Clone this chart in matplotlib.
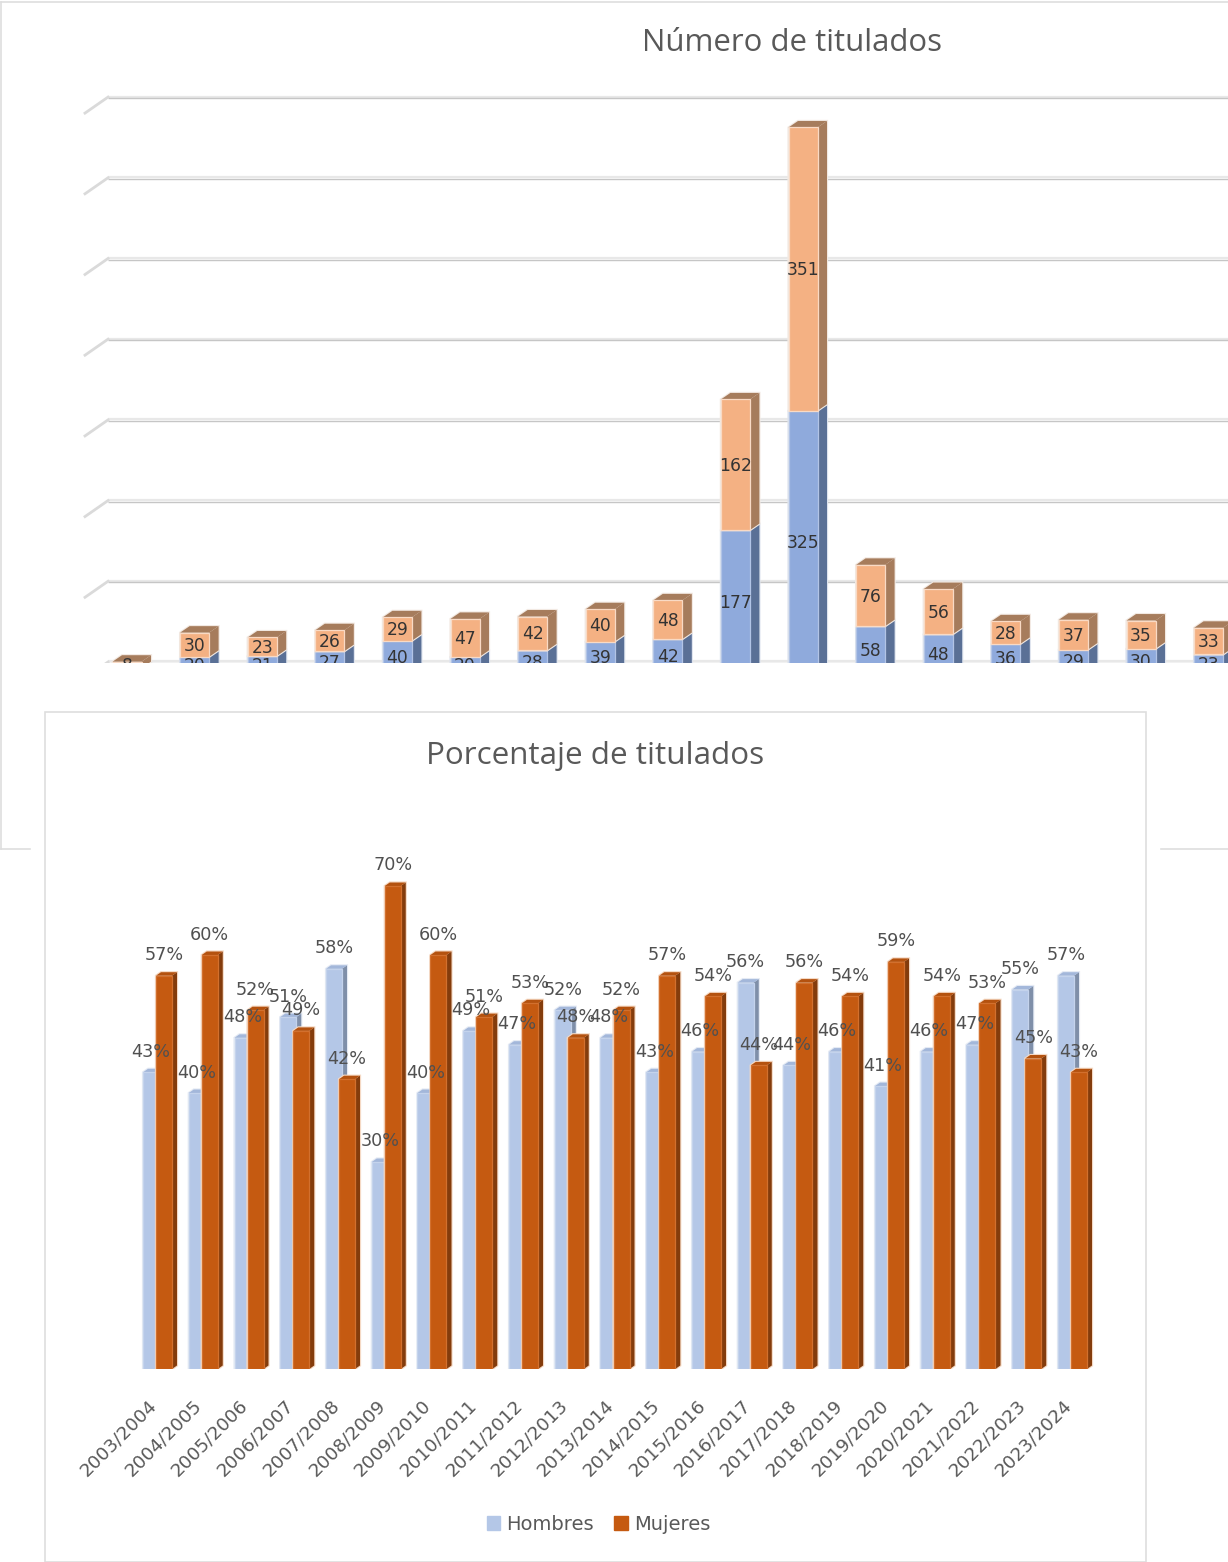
import matplotlib
matplotlib.use("Agg")
import matplotlib.pyplot as plt
from matplotlib.lines import Line2D
from matplotlib.patches import Patch, Polygon, Rectangle

cursos = ["2003/2004", "2004/2005", "2005/2006", "2006/2007", "2007/2008", "2008/2009", "2009/2010",
          "2010/2011", "2011/2012", "2012/2013", "2013/2014", "2014/2015", "2015/2016", "2016/2017",
          "2017/2018", "2018/2019", "2019/2020", "2020/2021", "2021/2022", "2022/2023", "2023/2024"]
num_hombres = [6, 20, 21, 27, 40, 20, 28, 39, 42, 177, 325, 58, 48, 36, 29, 30, 23]
num_mujeres = [8, 30, 23, 26, 29, 47, 42, 40, 48, 162, 351, 76, 56, 28, 37, 35, 33]
pct_hombres = [43, 40, 48, 51, 58, 30, 40, 49, 47, 52, 48, 43, 46, 56, 44, 46, 41, 46, 47, 55, 57]
pct_mujeres = [57, 60, 52, 49, 42, 70, 60, 51, 53, 48, 52, 57, 54, 44, 56, 54, 59, 54, 53, 45, 43]
grid_vals = [0, 100, 200, 300, 400, 500, 600, 700]

W, H = 1228, 1562
plt.rcParams["font.family"] = "DejaVu Sans"

fig = plt.figure(figsize=(W / 100, H / 100), dpi=100)


def axes_px(x0, y0, x1, y1):
    return fig.add_axes([x0 / W, 1 - y1 / H, (x1 - x0) / W, (y1 - y0) / H])


def hline(x0, x1, y, c="#DEDEDE", lw=1.2):
    fig.add_artist(Line2D([x0 / W, x1 / W], [1 - y / H, 1 - y / H], color=c, lw=lw))


def vline(x, y0, y1, c="#DEDEDE", lw=1.2):
    fig.add_artist(Line2D([x / W, x / W], [1 - y0 / H, 1 - y1 / H], color=c, lw=lw))


def box(ax, x, y0, h, w, dx, dy, front, side, top, edge, halo, z):
    # a bar with its right side and top face, depth in data units
    y1 = y0 + h
    r = x + w / 2
    l = x - w / 2
    ax.add_patch(Polygon([(l, y0), (r, y0), (r + dx, y0 + dy), (r + dx, y1 + dy), (l + dx, y1 + dy), (l, y1)],
                         fc=halo, ec=halo, lw=1.6, zorder=z))
    ax.add_patch(Polygon([(r, y0), (r + dx, y0 + dy), (r + dx, y1 + dy), (r, y1)], fc=side, ec="none", zorder=z))
    ax.add_patch(Polygon([(l, y1), (l + dx, y1 + dy), (r + dx, y1 + dy), (r, y1)], fc=top, ec="none", zorder=z))
    ax.bar(x, h, w, bottom=y0, color=front, edgecolor=edge, linewidth=0.9, zorder=z)


# outer frame of the first chart
vline(1, 2, 849)
hline(1, W, 2)
hline(1, 30, 849)
hline(1161, W, 849)
fig.text(791.5 / W, 1 - 43 / H, "Número de titulados", ha="center", va="center", fontsize=22.4,
         color="#595959", family="Open Sans")

# first chart, cut off by the second one
sx = 67.6
sy = 0.807
ax1 = axes_px(0, 3, W, 663)
ax1.set_xlim(-127 / sx, (W - 127) / sx)
ax1.set_ylim((673 - 663) / sy, (673 - 3) / sy)
ax1.axis("off")

back = 11 / sy
for v in grid_vals:
    ax1.plot([(108 - 127) / sx, (W - 127) / sx], [v + back + 0.6 / sy] * 2, color="#E8E8E8", lw=1.6, zorder=1, solid_capstyle="butt")
    ax1.plot([(108 - 127) / sx, (W - 127) / sx], [v + back - 1 / sy] * 2, color="#C6C6C6", lw=1.0, zorder=1, solid_capstyle="butt")
    ax1.plot([(85 - 127) / sx, (108 - 127) / sx], [v + back - 16 / sy, v + back], color="#DADADA", lw=2.0, zorder=1)

dx1 = 9.5 / sx
dy1 = 6.5 / sy
w1 = 29 / sx
for i in range(len(num_hombres)):
    z = 3 + i
    box(ax1, i, 0, num_hombres[i], w1, dx1, dy1, "#8FAADC", "#5A7096", "#5A7096", "#B2C4E6", "#DDE3EE", z)
    box(ax1, i, num_hombres[i], num_mujeres[i], w1, dx1, dy1, "#F4B183", "#A67C5C", "#A67C5C", "#F9DAC5", "#F2E9E2", z + 0.1)
    ax1.text(i, num_hombres[i] / 2 - 1 / sy, str(num_hombres[i]), ha="center", va="center", fontsize=12.3, color="#333333", zorder=40, clip_on=True)
    ax1.text(i, num_hombres[i] + num_mujeres[i] / 2 - 1 / sy, str(num_mujeres[i]), ha="center", va="center", fontsize=12.3, color="#333333", zorder=40, clip_on=True)

# second chart on its own white panel
fig.add_artist(Rectangle((45 / W, 0), (1146 - 45) / W, 1 - 712 / H, transform=fig.transFigure, fc="white", ec="#DEDEDE", lw=1.2, zorder=2))

sx2 = 45.75
sy2 = 6.9
ax2 = axes_px(45, 712, 1146, 1369)
ax2.set_zorder(5)
ax2.patch.set_visible(False)
ax2.set_xlim((45 - 157.5) / sx2, (1146 - 157.5) / sx2)
ax2.set_ylim(0, (1369 - 712) / sy2)
for s in ax2.spines.values():
    s.set_visible(False)
ax2.set_yticks([])
ax2.set_xticks([i - 4 / sx2 for i in range(len(cursos))])
ax2.set_xticklabels(cursos, rotation=45, ha="right", va="center", rotation_mode="anchor", fontsize=13.2, color="#595959")
ax2.tick_params(axis="x", length=0, pad=24)

dx2 = 5 / sx2
dy2 = 3.5 / sy2
w2 = 16 / sx2
off = 6.5 / sx2
for i in range(len(cursos)):
    box(ax2, i - off, 0, pct_hombres[i], w2, dx2, dy2, "#B4C7E7", "#7F8FA9", "#A3B7DA", "#C4D3EC", "#E4EAF4", 3 + i)
    box(ax2, i + off, 0, pct_mujeres[i], w2, dx2, dy2, "#C55A11", "#843C0C", "#B4520F", "#D2702E", "#F5D9C4", 3.5 + i)
for i in range(len(cursos)):
    ax2.text(i - off, pct_hombres[i] + 20.5 / sy2, f"{pct_hombres[i]}%", ha="center", va="center", fontsize=12.7, color="#505050", zorder=50)
    ax2.text(i + off, pct_mujeres[i] + 20.5 / sy2, f"{pct_mujeres[i]}%", ha="center", va="center", fontsize=12.7, color="#505050", zorder=50)

fig.text(595.5 / W, 1 - 756 / H, "Porcentaje de titulados", ha="center", va="center", fontsize=22.6,
         color="#595959", zorder=6, family="Open Sans")

handles = [Patch(color="#B4C7E7", label="Hombres"), Patch(color="#C55A11", label="Mujeres")]
leg = fig.legend(handles=handles, loc="center", bbox_to_anchor=(598.5 / W, 1 - 1524 / H), ncol=2, frameon=False,
                 fontsize=14, labelcolor="#595959", handlelength=0.7, handleheight=0.7, handletextpad=0.3, columnspacing=1.05)
leg.set_zorder(6)

fig.savefig("out.png", dpi=100)
